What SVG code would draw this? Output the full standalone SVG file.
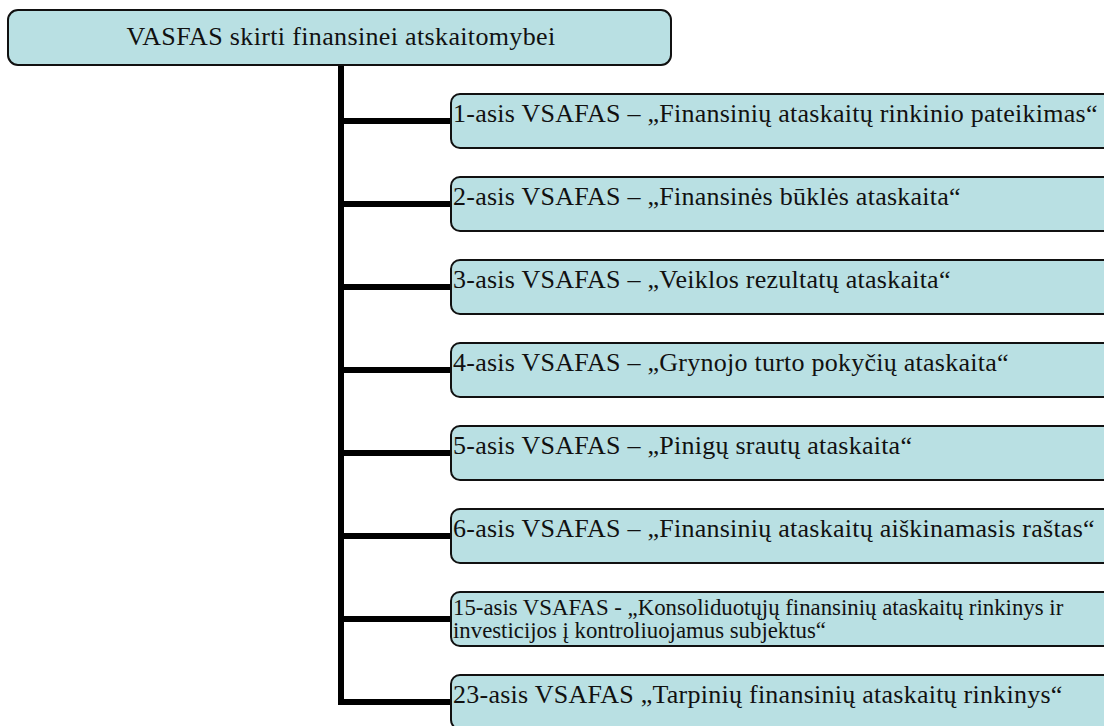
<svg xmlns="http://www.w3.org/2000/svg" width="1104" height="726" viewBox="0 0 1104 726">
  <style>
    .box { fill: #b9e0e3; stroke: #111; stroke-width: 2; }
    .lbl { font-family: "Liberation Serif", serif; font-size: 26px; letter-spacing: 0.25px; fill: #111; }
    .small { font-size: 22.8px; letter-spacing: 0; }
    .title { text-anchor: middle; letter-spacing: 0.35px; }
    .wire { stroke: #000; stroke-width: 6; fill: none; }
  </style>
  <rect width="1104" height="726" fill="#fff"/>

  <!-- tree connectors: trunk from the root plus one branch per standard -->
  <g id="connectors">
    <path class="wire" d="M341,66 V705"/>
    <path class="wire" d="M338,121 H451"/>
    <path class="wire" d="M338,204 H451"/>
    <path class="wire" d="M338,287 H451"/>
    <path class="wire" d="M338,370 H451"/>
    <path class="wire" d="M338,453 H451"/>
    <path class="wire" d="M338,536 H451"/>
    <path class="wire" d="M338,619 H451"/>
    <path class="wire" d="M338,702 H451"/>
  </g>

  <g id="root">
    <rect class="box" x="8" y="10" width="663" height="55" rx="10"/>
    <text class="lbl title" x="341" y="45">VASFAS skirti finansinei atskaitomybei</text>
  </g>

  <g id="vsafas-1">
    <rect class="box" x="451" y="94" width="670" height="54" rx="9"/>
    <text class="lbl" x="453" y="122">1-asis VSAFAS – „Finansinių ataskaitų rinkinio pateikimas“</text>
  </g>
  <g id="vsafas-2">
    <rect class="box" x="451" y="177" width="670" height="54" rx="9"/>
    <text class="lbl" x="453" y="205">2-asis VSAFAS – „Finansinės būklės ataskaita“</text>
  </g>
  <g id="vsafas-3">
    <rect class="box" x="451" y="260" width="670" height="54" rx="9"/>
    <text class="lbl" x="453" y="288">3-asis VSAFAS – „Veiklos rezultatų ataskaita“</text>
  </g>
  <g id="vsafas-4">
    <rect class="box" x="451" y="343" width="670" height="54" rx="9"/>
    <text class="lbl" x="453" y="371">4-asis VSAFAS – „Grynojo turto pokyčių ataskaita“</text>
  </g>
  <g id="vsafas-5">
    <rect class="box" x="451" y="426" width="670" height="54" rx="9"/>
    <text class="lbl" x="453" y="454">5-asis VSAFAS – „Pinigų srautų ataskaita“</text>
  </g>
  <g id="vsafas-6">
    <rect class="box" x="451" y="509" width="670" height="54" rx="9"/>
    <text class="lbl" x="453" y="537">6-asis VSAFAS – „Finansinių ataskaitų aiškinamasis raštas“</text>
  </g>
  <g id="vsafas-15">
    <rect class="box" x="451" y="592" width="670" height="54" rx="9"/>
    <text class="lbl small" x="453" y="615">15-asis VSAFAS - „Konsoliduotųjų finansinių ataskaitų rinkinys ir</text>
    <text class="lbl small" x="453" y="638">investicijos į kontroliuojamus subjektus“</text>
  </g>
  <g id="vsafas-23">
    <rect class="box" x="451" y="675" width="670" height="54" rx="9"/>
    <text class="lbl" x="453" y="703">23-asis VSAFAS „Tarpinių finansinių ataskaitų rinkinys“</text>
  </g>
</svg>
